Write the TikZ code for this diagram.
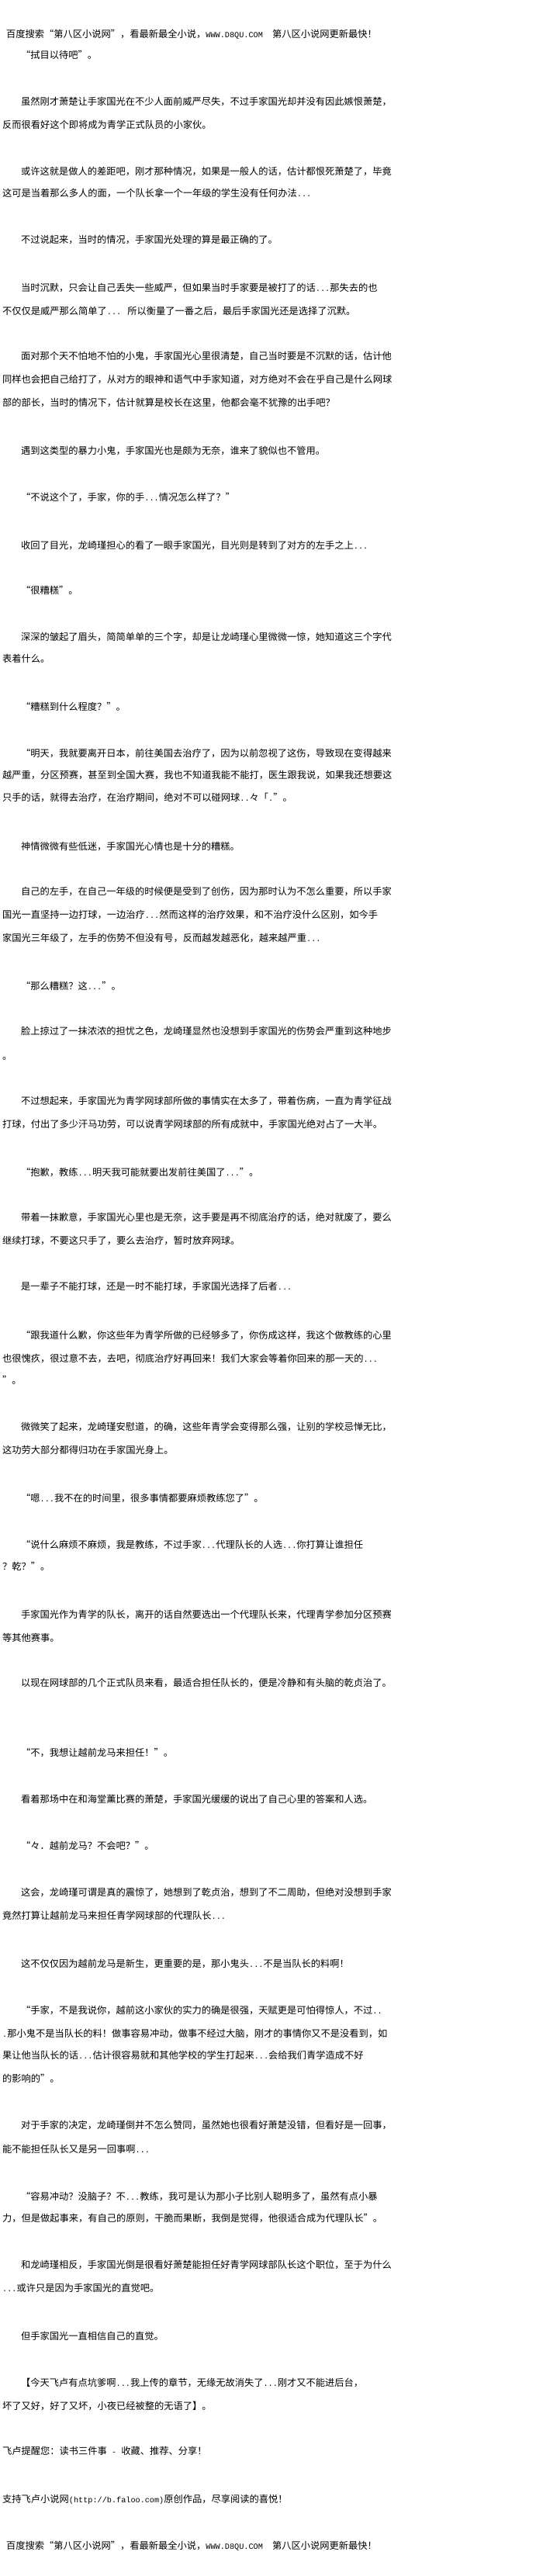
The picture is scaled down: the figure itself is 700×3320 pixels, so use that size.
\documentclass[tikz,border=0pt]{standalone}
\usepackage{fontspec}
\newfontfamily\cjk{Noto Sans CJK SC}
\newfontfamily\hwfont{Liberation Mono}
\newcommand{\hw}[1]{{\hwfont\fontsize{10.2pt}{12pt}\selectfont #1}}
\newcommand{\dd}{\hw{...}}
\tikzset{ln/.style={anchor=base west,inner sep=0pt,text=black,font=\cjk\fontsize{12.25pt}{14pt}\selectfont}}

\begin{document}
\begin{tikzpicture}[x=1pt,y=-1pt]
    \useasboundingbox (0,0) rectangle (700,3320);
    \fill[white] (0,0) rectangle (700,3320);
    \node[ln] (top) at (8,48) {百度搜索“第八区小说网”，看最新最全小说，\hw{WWW.D8QU.COM\ \ }第八区小说网更新最快！};
    \node[ln] (l2) at (27,75) {“拭目以待吧”。};
    \node[ln] (l3) at (27,135) {虽然刚才萧楚让手家国光在不少人面前威严尽失，不过手家国光却并没有因此嫉恨萧楚，};
    \node[ln] (l4) at (3,165) {反而很看好这个即将成为青学正式队员的小家伙。};
    \node[ln] (l5) at (27,225) {或许这就是做人的差距吧，刚才那种情况，如果是一般人的话，估计都恨死萧楚了，毕竟};
    \node[ln] (l6) at (3,253) {这可是当着那么多人的面，一个队长拿一个一年级的学生没有任何办法\dd{}};
    \node[ln] (l7) at (27,313) {不过说起来，当时的情况，手家国光处理的算是最正确的了。};
    \node[ln] (l8) at (27,375) {当时沉默，只会让自己丢失一些威严，但如果当时手家要是被打了的话\dd{}那失去的也};
    \node[ln] (l9) at (3,405) {不仅仅是威严那么简单了\hw{... }所以衡量了一番之后，最后手家国光还是选择了沉默。};
    \node[ln] (l10) at (27,463) {面对那个天不怕地不怕的小鬼，手家国光心里很清楚，自己当时要是不沉默的话，估计他};
    \node[ln] (l11) at (3,493) {同样也会把自己给打了，从对方的眼神和语气中手家知道，对方绝对不会在乎自己是什么网球};
    \node[ln] (l12) at (3,523) {部的部长，当时的情况下，估计就算是校长在这里，他都会毫不犹豫的出手吧？};
    \node[ln] (l13) at (27,585) {遇到这类型的暴力小鬼，手家国光也是颇为无奈，谁来了貌似也不管用。};
    \node[ln] (l14) at (27,645) {“不说这个了，手家，你的手\dd{}情况怎么样了？”};
    \node[ln] (l15) at (27,707) {收回了目光，龙崎瑾担心的看了一眼手家国光，目光则是转到了对方的左手之上\dd{}};
    \node[ln] (l16) at (27,765) {“很糟糕”。};
    \node[ln] (l17) at (27,825) {深深的皱起了眉头，简简单单的三个字，却是让龙崎瑾心里微微一惊，她知道这三个字代};
    \node[ln] (l18) at (3,853) {表着什么。};
    \node[ln] (l19) at (27,915) {“糟糕到什么程度？”。};
    \node[ln] (l20) at (27,975) {“明天，我就要离开日本，前往美国去治疗了，因为以前忽视了这伤，导致现在变得越来};
    \node[ln] (l21) at (3,1003) {越严重，分区预赛，甚至到全国大赛，我也不知道我能不能打，医生跟我说，如果我还想要这};
    \node[ln] (l22) at (3,1032) {只手的话，就得去治疗，在治疗期间，绝对不可以碰网球\hw{..}々「\hw{.}”。};
    \node[ln] (l23) at (27,1095) {神情微微有些低迷，手家国光心情也是十分的糟糕。};
    \node[ln] (l24) at (27,1153) {自己的左手，在自己一年级的时候便是受到了创伤，因为那时认为不怎么重要，所以手家};
    \node[ln] (l25) at (3,1183) {国光一直坚持一边打球，一边治疗\dd{}然而这样的治疗效果，和不治疗没什么区别，如今手};
    \node[ln] (l26) at (3,1213) {家国光三年级了，左手的伤势不但没有号，反而越发越恶化，越来越严重\dd{}};
    \node[ln] (l27) at (27,1275) {“那么糟糕？这\dd{}”。};
    \node[ln] (l28) at (27,1333) {脸上掠过了一抹浓浓的担忧之色，龙崎瑾显然也没想到手家国光的伤势会严重到这种地步};
    \node[ln] (l29) at (3,1365) {。};
    \node[ln] (l30) at (27,1423) {不过想起来，手家国光为青学网球部所做的事情实在太多了，带着伤病，一直为青学征战};
    \node[ln] (l31) at (3,1453) {打球，付出了多少汗马功劳，可以说青学网球部的所有成就中，手家国光绝对占了一大半。};
    \node[ln] (l32) at (27,1515) {“抱歉，教练\dd{}明天我可能就要出发前往美国了\dd{}”。};
    \node[ln] (l33) at (27,1573) {带着一抹歉意，手家国光心里也是无奈，这手要是再不彻底治疗的话，绝对就废了，要么};
    \node[ln] (l34) at (3,1603) {继续打球，不要这只手了，要么去治疗，暂时放弃网球。};
    \node[ln] (l35) at (27,1662) {是一辈子不能打球，还是一时不能打球，手家国光选择了后者\dd{}};
    \node[ln] (l36) at (27,1725) {“跟我道什么歉，你这些年为青学所做的已经够多了，你伤成这样，我这个做教练的心里};
    \node[ln] (l37) at (3,1755) {也很愧疚，很过意不去，去吧，彻底治疗好再回来！我们大家会等着你回来的那一天的\dd{}};
    \node[ln] (l38) at (3,1783) {”。};
    \node[ln] (l39) at (27,1843) {微微笑了起来，龙崎瑾安慰道，的确，这些年青学会变得那么强，让别的学校忌惮无比，};
    \node[ln] (l40) at (3,1873) {这功劳大部分都得归功在手家国光身上。};
    \node[ln] (l41) at (27,1935) {“嗯\dd{}我不在的时间里，很多事情都要麻烦教练您了”。};
    \node[ln] (l42) at (27,1995) {“说什么麻烦不麻烦，我是教练，不过手家\dd{}代理队长的人选\dd{}你打算让谁担任};
    \node[ln] (l43) at (3,2023) {？乾？”。};
    \node[ln] (l44) at (27,2085) {手家国光作为青学的队长，离开的话自然要选出一个代理队长来，代理青学参加分区预赛};
    \node[ln] (l45) at (3,2115) {等其他赛事。};
    \node[ln] (l46) at (27,2173) {以现在网球部的几个正式队员来看，最适合担任队长的，便是冷静和有头脑的乾贞治了。};
    \node[ln] (l47) at (27,2263) {“不，我想让越前龙马来担任！”。};
    \node[ln] (l48) at (27,2323) {看着那场中在和海堂薰比赛的萧楚，手家国光缓缓的说出了自己心里的答案和人选。};
    \node[ln] (l49) at (27,2383) {“々．越前龙马？不会吧？”。};
    \node[ln] (l50) at (27,2443) {这会，龙崎瑾可谓是真的震惊了，她想到了乾贞治，想到了不二周助，但绝对没想到手家};
    \node[ln] (l51) at (3,2473) {竟然打算让越前龙马来担任青学网球部的代理队长\dd{}};
    \node[ln] (l52) at (27,2535) {这不仅仅因为越前龙马是新生，更重要的是，那小鬼头\dd{}不是当队长的料啊！};
    \node[ln] (l53) at (27,2595) {“手家，不是我说你，越前这小家伙的实力的确是很强，天赋更是可怕得惊人，不过\hw{..}};
    \node[ln] (l54) at (3,2625) {\hw{.}那小鬼不是当队长的料！做事容易冲动，做事不经过大脑，刚才的事情你又不是没看到，如};
    \node[ln] (l55) at (3,2653) {果让他当队长的话\dd{}估计很容易就和其他学校的学生打起来\dd{}会给我们青学造成不好};
    \node[ln] (l56) at (3,2683) {的影响的”。};
    \node[ln] (l57) at (27,2743) {对于手家的决定，龙崎瑾倒并不怎么赞同，虽然她也很看好萧楚没错，但看好是一回事，};
    \node[ln] (l58) at (3,2774) {能不能担任队长又是另一回事啊\dd{}};
    \node[ln] (l59) at (27,2835) {“容易冲动？没脑子？不\dd{}教练，我可是认为那小子比别人聪明多了，虽然有点小暴};
    \node[ln] (l60) at (3,2863) {力，但是做起事来，有自己的原则，干脆而果断，我倒是觉得，他很适合成为代理队长”。};
    \node[ln] (l61) at (27,2923) {和龙崎瑾相反，手家国光倒是很看好萧楚能担任好青学网球部队长这个职位，至于为什么};
    \node[ln] (l62) at (3,2953) {\dd{}或许只是因为手家国光的直觉吧。};
    \node[ln] (l63) at (27,3015) {但手家国光一直相信自己的直觉。};
    \node[ln] (l64) at (27,3075) {【今天飞卢有点坑爹啊\dd{}我上传的章节，无缘无故消失了\dd{}刚才又不能进后台，};
    \node[ln] (l65) at (3,3105) {坏了又好，好了又坏，小夜已经被整的无语了】。};
    \node[ln] (tip) at (3,3163) {飞卢提醒您：读书三件事\hw{ - }收藏、推荐、分享！};
    \node[ln] (faloo) at (3,3225) {支持飞卢小说网\hw{(http://b.faloo.com)}原创作品，尽享阅读的喜悦！};
    \node[ln] (foot) at (8,3285) {百度搜索“第八区小说网”，看最新最全小说，\hw{WWW.D8QU.COM\ \ }第八区小说网更新最快！};
  \end{tikzpicture}
\end{document}
